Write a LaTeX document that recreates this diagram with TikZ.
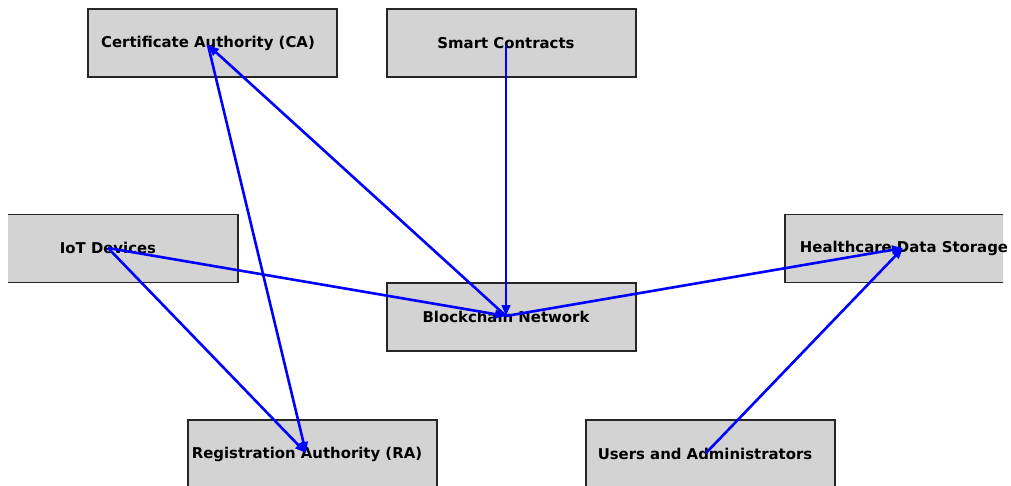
\documentclass[tikz,border=0pt]{standalone}
\usepackage{fontspec}
\setmainfont{DejaVu Sans}
\usetikzlibrary{arrows.meta}
\definecolor{boxfill}{RGB}{211,211,211}
\definecolor{linkblue}{RGB}{0,0,255}
\tikzset{
  box/.style={draw=black!85, line width=1.2pt, fill=boxfill, minimum width=249pt, minimum height=68pt, inner sep=0pt},
  label/.style={font=\fontsize{14.9}{18}\selectfont\bfseries, inner sep=0pt, text=black},
  link/.style={draw=linkblue, line width=2.6pt, -{Triangle[length=11pt,width=8.5pt]}}
}
\begin{document}
\begin{tikzpicture}[x=1pt, y=-1pt]
\useasboundingbox (0,0) rectangle (1011,486);
% component anchor points
\coordinate (ca) at (208,45);
\coordinate (sc) at (506,45);
\coordinate (iot) at (108,248);
\coordinate (hds) at (903,248);
\coordinate (bc) at (506,316);
\coordinate (ra) at (306,453);
\coordinate (ua) at (706,453);
% boxes, clipped to the plotting area
\begin{scope}
\clip (8,0) rectangle (1003,486);
\node[box] (cabox) at (212.5,43) {};
\node[box] (scbox) at (511.5,43) {};
\node[box] (iotbox) at (113.5,248.5) {};
\node[box] (hdsbox) at (909.5,248.5) {};
\node[box] (bcbox) at (511.5,317) {};
\node[box] (rabox) at (312.5,454) {};
\node[box] (uabox) at (710.5,454) {};
\end{scope}
% labels
\node[label] (catext) at (208,43.5) {Certificate Authority (CA)};
\node[label] (sctext) at (506,43.5) {Smart Contracts};
\node[label] (iottext) at (108,248) {IoT Devices};
\node[label] (hdstext) at (904,248) {Healthcare Data Storage};
\node[label] (bctext) at (506,317) {Blockchain Network};
\node[label] (ratext) at (307,454) {Registration Authority (RA)};
\node[label] (uatext) at (705,454) {Users and Administrators};
% connections
\draw[link] (ca) -- (ra);
\draw[link] (bc) -- (ca);
\draw[link] (sc) -- (bc);
\draw[link] (iot) -- (bc);
\draw[link] (iot) -- (ra);
\draw[link] (bc) -- (hds);
\draw[link] (ua) -- (hds);
\end{tikzpicture}
\end{document}
